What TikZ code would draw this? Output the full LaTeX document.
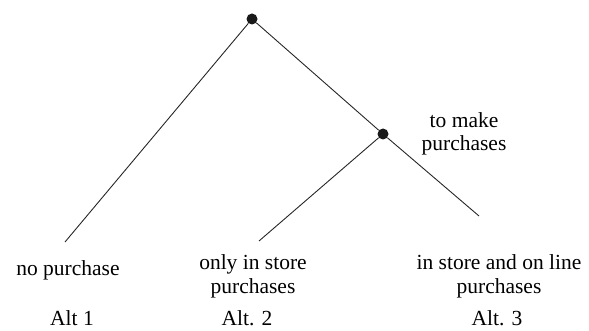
\documentclass[tikz,border=0pt]{standalone}
\usepackage{fontspec}
\setmainfont{Liberation Serif}
\begin{document}
\begin{tikzpicture}[x=1pt,y=-1pt,
  dot/.style={circle,fill=black!90,inner sep=0pt,minimum size=11pt},
  branch/.style={line width=0.9pt,draw=black!85},
  lbl/.style={font=\fontsize{21.5}{23.5}\selectfont,align=center,inner sep=0pt,anchor=base}]
\useasboundingbox (0,0) rectangle (589,331);
\node[dot] (t) at (252,19) {};
\node[dot] (m) at (383,134) {};
\coordinate (e1) at (65,242);
\coordinate (e2) at (259,241);
\coordinate (e3) at (479,216);
\draw[branch] (t) -- (e1);
\draw[branch] (t) -- (m);
\draw[branch] (m) -- (e3);
\draw[branch] (m) -- (e2);
\node[lbl] (l1) at (68,276) {no purchase};
\node[lbl] (l2) at (253,293) {only in store\\purchases};
\node[lbl] (l3) at (499,293) {in store and on line\\purchases};
\node[lbl] (l4) at (464,151) {to make\\purchases};
\node[lbl] (a1) at (72,325) {Alt 1};
\node[lbl] (a2) at (247,325) {Alt. 2};
\node[lbl] (a3) at (497,325) {Alt. 3};
\end{tikzpicture}
\end{document}
